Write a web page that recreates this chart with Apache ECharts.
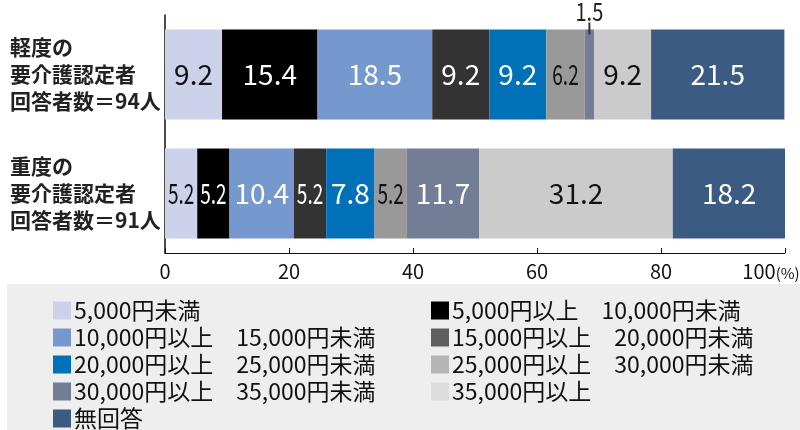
<!DOCTYPE html>
<html>
<head>
<meta charset="utf-8">
<script src="https://cdn.jsdelivr.net/npm/echarts@6/dist/echarts.min.js"></script>
<style>
  html, body { margin: 0; padding: 0; background: #fff; }
  #main { width: 800px; height: 430px; }
</style>
</head>
<body>
<div id="main"></div>
<script>
// カテゴリ
var categories = ['軽度の\n要介護認定者\n回答者数＝94人', '重度の\n要介護認定者\n回答者数＝91人'];

// 金額区分
var seriesNames = [
    '5,000円未満',
    '5,000円以上　10,000円未満',
    '10,000円以上　15,000円未満',
    '15,000円以上　20,000円未満',
    '20,000円以上　25,000円未満',
    '25,000円以上　30,000円未満',
    '30,000円以上　35,000円未満',
    '35,000円以上',
    '無回答'
];

// 割合（％）軽度・重度
var lightValues = [9.2, 15.4, 18.5, 9.2, 9.2, 6.2, 1.5, 9.2, 21.5];
var heavyValues = [5.2, 5.2, 10.4, 5.2, 7.8, 5.2, 11.7, 31.2, 18.2];

var xTicks = [0, 20, 40, 60, 80, 100];

var barColors = ['#cbd2ea', '#000000', '#7598cf', '#333333', '#0070b8', '#999999', '#737d96', '#cbcbcb', '#3b5b82'];
var legendColors = ['#cbd2ea', '#000000', '#7598cf', '#5f5f5f', '#0070b8', '#b5b5b5', '#737d96', '#dddddd', '#3b5b82'];
var labelColors = ['#111', '#fff', '#fff', '#fff', '#fff', '#111', '#fff', '#111', '#fff'];

var jpFont = '"Noto Sans CJK JP", "Noto Sans", sans-serif';

// ラベル位置（積み上げの中央）
var labelItems = [];
[lightValues, heavyValues].forEach(function (vals, c) {
    var acc = 0;
    vals.forEach(function (v, i) {
        labelItems.push([acc + v / 2, c, v, i]);
        acc += v;
    });
});

var series = seriesNames.map(function (name, i) {
    return {
        name: name,
        type: 'bar',
        stack: 'total',
        barWidth: 90,
        itemStyle: { color: barColors[i] },
        emphasis: { disabled: true },
        data: [lightValues[i], heavyValues[i]]
    };
});

//数値ラベル（狭い区間は横に詰める）
series.push({
    name: 'labels',
    type: 'custom',
    coordinateSystem: 'cartesian2d',
    encode: { x: 0, y: 1 },
    silent: true,
    z: 10,
    renderItem: function (params, api) {
        var mid = api.value(0), c = api.value(1), v = api.value(2), i = api.value(3);
        var p = api.coord([mid, c]);
        var txt = v.toFixed(1);
        if (v < 3) {
            var top = p[1] - 45;
            return {
                type: 'group',
                children: [{
                    type: 'line',
                    shape: { x1: p[0], y1: top - 7, x2: p[0], y2: top + 5 },
                    style: { stroke: '#333', lineWidth: 2 }
                }, {
                    type: 'text',
                    x: p[0],
                    y: top - 18,
                    scaleX: 0.8,
                    style: {
                        text: txt, fill: '#222', fontSize: 25, fontFamily: jpFont,
                        align: 'center', verticalAlign: 'middle'
                    }
                }]
            };
        }
        return {
            type: 'text',
            x: p[0],
            y: p[1],
            scaleX: v < 7 ? 0.68 : 1,
            style: {
                text: txt, fill: labelColors[i], fontSize: 28, fontFamily: jpFont,
                align: 'center', verticalAlign: 'middle'
            }
        };
    },
    data: labelItems
});

//凡例は1項目ずつ配置（2列）
var legends = seriesNames.map(function (name, i) {
    return {
        orient: 'horizontal',
        left: i % 2 === 0 ? 53 : 431,
        top: 299 + 27 * Math.floor(i / 2),
        padding: 0,
        itemWidth: 18,
        itemHeight: 18,
        selectedMode: false,
        icon: 'rect',
        textStyle: { fontSize: 23, color: '#111', lineHeight: 18, fontFamily: jpFont, padding: [0, 0, 0, -2] },
        data: [{ name: name, itemStyle: { color: legendColors[i] } }]
    };
});

var chart = echarts.init(document.getElementById('main'), null, { renderer: 'canvas' });

chart.setOption({
    animation: false,
    backgroundColor: '#fff',
    textStyle: { fontFamily: jpFont },
    graphic: [{
        type: 'rect',
        z: -10,
        shape: { x: 7, y: 284, width: 793, height: 146 },
        style: { fill: '#eeeeee' }
    }],
    legend: legends,
    grid: {
        left: 165,
        right: 15,
        top: 15,
        height: 238,
        containLabel: false,
        outerBoundsMode: 'none'
    },
    xAxis: {
        type: 'value',
        min: 0,
        max: 100,
        interval: 20,
        axisLine: { show: true, lineStyle: { color: '#111', width: 1 } },
        axisTick: { show: true, inside: true, length: 5, lineStyle: { color: '#111' } },
        splitLine: { show: false },
        axisLabel: {
            margin: 8,
            fontSize: 20,
            color: '#111',
            formatter: function (v) {
                if (v === 100) return '{a|100}{u|(%)}';
                return xTicks.indexOf(v) >= 0 ? String(v) : '';
            },
            rich: {
                a: { fontSize: 20, color: '#111' },
                u: { fontSize: 15, color: '#111', padding: [4, 28, 0, 0] }
            }
        }
    },
    yAxis: {
        type: 'category',
        inverse: true,
        data: categories,
        axisLine: { show: true, lineStyle: { color: '#111', width: 1.5 } },
        axisTick: { show: false },
        axisLabel: {
            align: 'left',
            margin: 155,
            fontSize: 21,
            lineHeight: 27,
            color: '#222',
            fontWeight: 'bold'
        }
    },
    series: series
});
</script>
</body>
</html>
